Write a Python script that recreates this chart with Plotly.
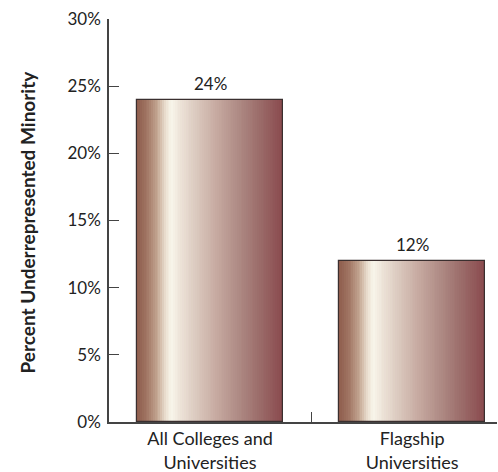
import plotly.graph_objects as go
import numpy as np

categories = ["All Colleges and<br>Universities", "Flagship<br>Universities"]
values = [24, 12]
value_labels = ["24%", "12%"]
y_title = "Percent Underrepresented Minority"

# horizontal gradient stops (position across bar width, colour)
grad_pos = [0.0, 0.08, 0.15, 0.20, 0.24, 0.30, 0.40, 0.55, 0.70, 0.85, 1.0]
grad_col = ["#8c5a4a", "#a47a68", "#c8ac98", "#ece2d4", "#f8f5ea", "#ede3d8",
            "#dccbc0", "#c6a9a0", "#ae8a84", "#9a6a68", "#8a4a4e"]

def hex2rgb(h):
    h = h.lstrip("#")
    return np.array([int(h[i:i + 2], 16) for i in (0, 2, 4)], dtype=float)

stops = np.array([hex2rgb(c) for c in grad_col])

def colour_at(t):
    r = [np.interp(t, grad_pos, stops[:, k]) for k in range(3)]
    return "rgb(%d,%d,%d)" % tuple(int(round(v)) for v in r)

BAR_W = 0.723
N = 80
slice_w = BAR_W / N

fig = go.Figure()
for k in range(N):
    t = (k + 0.5) / N
    fig.add_trace(go.Bar(
        x=categories, y=values,
        width=slice_w * 1.08,
        offset=-BAR_W / 2 + k * slice_w,
        marker=dict(color=colour_at(t), line=dict(width=0)),
        hoverinfo="skip", showlegend=False,
    ))

# outline
fig.add_trace(go.Bar(
    x=categories, y=values, width=BAR_W,
    marker=dict(color="rgba(0,0,0,0)", line=dict(color="#3a2f2f", width=1.2)),
    showlegend=False,
))

for c, v, lab in zip(categories, values, value_labels):
    fig.add_annotation(x=c, y=v, text=lab, showarrow=False, yanchor="middle",
                       yshift=16, font=dict(size=17, color="#222222", family="Lato"))

fig.add_annotation(xref="paper", yref="paper", x=(28 - 109) / 388, y=0.495,
                   xanchor="center", yanchor="middle", textangle=-90,
                   text="<b>" + y_title + "</b>", showarrow=False,
                   font=dict(size=19, color="#222222", family="Lato"))

fig.update_layout(
    width=498, height=472,
    margin=dict(l=109, r=1, t=19, b=50, autoexpand=False),
    paper_bgcolor="white", plot_bgcolor="white",
    barmode="overlay", bargap=0,
    font=dict(family="Lato", size=17, color="#222222"),
    showlegend=False,
)
fig.update_xaxes(
    type="category", range=[-0.5, 1.42], automargin=False,
    showline=True, linecolor="#444444", linewidth=1.5,
    ticks="inside", tickson="boundaries", ticklen=10, tickcolor="#444444", tickwidth=1.2,
    showgrid=False, zeroline=False,
    tickfont=dict(size=18, family="Lato", color="#222222"),
)
fig.update_yaxes(
    range=[0, 30], dtick=5, ticksuffix="%", automargin=False,
    showline=True, linecolor="#444444", linewidth=1.5,
    ticks="inside", ticklen=10, tickcolor="#444444", tickwidth=1.2,
    showgrid=False, zeroline=False, ticklabelstandoff=3,
    tickfont=dict(size=17, family="Lato", color="#222222"),
)

fig.write_html("out.html")
